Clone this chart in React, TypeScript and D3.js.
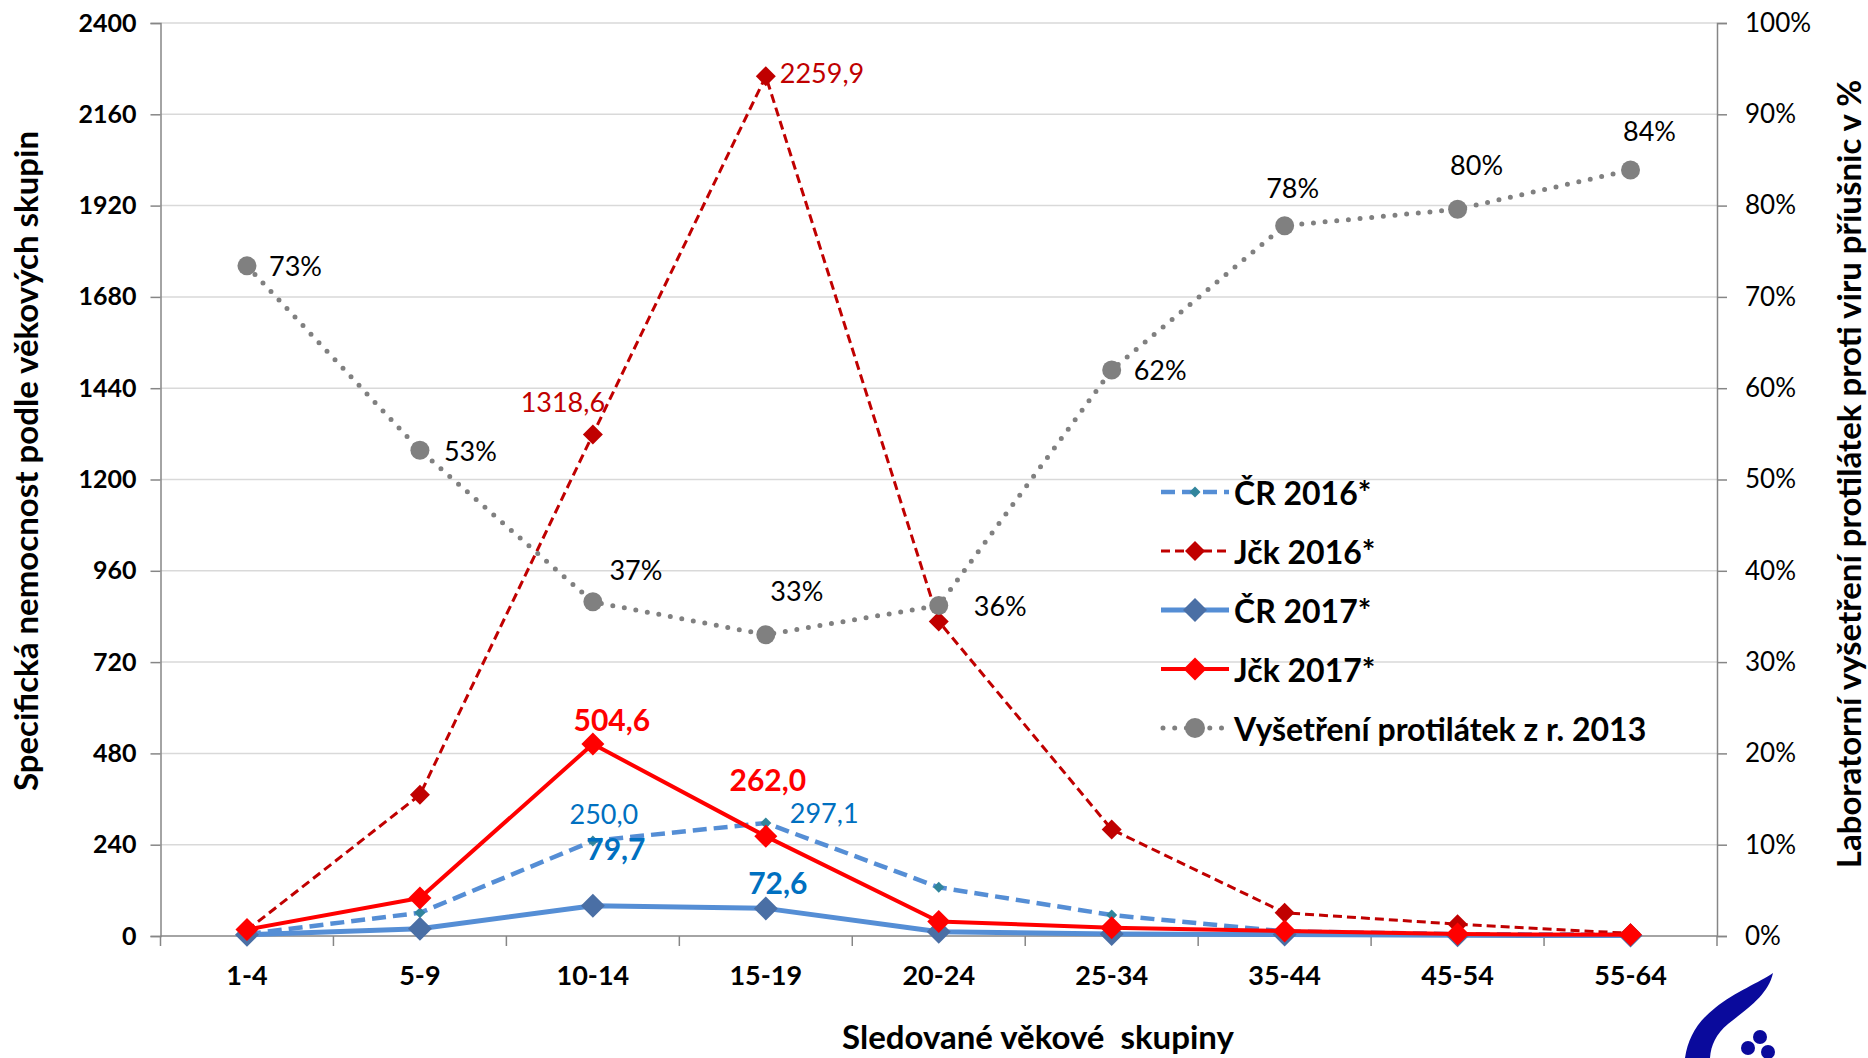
import React, { useEffect, useRef } from 'react';
import * as d3 from 'd3';

// age groups
const categories = ['1-4', '5-9', '10-14', '15-19', '20-24', '25-34', '35-44', '45-54', '55-64'];

// specific morbidity per 100 000
const cr2016 = [5, 61, 250.0, 297.1, 128, 55, 12, 5, 3];
const jck2016 = [15, 371, 1318.6, 2259.9, 827, 280, 61, 31, 7];
const cr2017 = [3, 19, 79.7, 72.6, 11, 5, 4, 2, 1];
const jck2017 = [17, 100, 504.6, 262.0, 38, 22, 13, 5, 3];

// antibody survey 2013, % (right axis)
const antibodies = [73.4, 53.2, 36.6, 33.0, 36.2, 62.0, 77.8, 79.6, 83.9];

const leftTicks = d3.range(0, 2401, 240);
const rightTicks = d3.range(0, 101, 10);

const FONT = "Lato, 'Open Sans', sans-serif";
const W = 1868;
const H = 1058;

const App: React.FC = () => {
  const svgRef = useRef<SVGSVGElement>(null);

  useEffect(() => {
    if (!svgRef.current) return;
    const svg = d3.select(svgRef.current);
    svg.selectAll('*').remove();

    const margin = { top: 23, right: 151, bottom: 122, left: 160.5 };
    const x0 = margin.left;
    const x1 = W - margin.right;
    const yBottom = H - margin.bottom;

    const x = d3.scaleBand<string>().domain(categories).range([x0, x1]);
    const cx = (i: number) => (x(categories[i]) as number) + x.bandwidth() / 2;
    const yL = d3.scaleLinear().domain([0, 2400]).range([yBottom, margin.top]);
    const yR = d3.scaleLinear().domain([0, 100]).range([yBottom, margin.top]);

    svg.append('rect').attr('width', W).attr('height', H).attr('fill', '#fff');

    // gridlines
    svg.append('g')
      .selectAll('line')
      .data(leftTicks.filter(t => t > 0))
      .enter()
      .append('line')
      .attr('x1', x0).attr('x2', x1)
      .attr('y1', d => yL(d)).attr('y2', d => yL(d))
      .attr('stroke', '#d9d9d9')
      .attr('stroke-width', 1.5);

    // left axis
    const left = svg.append('g')
      .attr('transform', `translate(${x0},0)`)
      .call(d3.axisLeft(yL).tickValues(leftTicks).tickSize(10).tickPadding(14).tickFormat(d3.format('d')));
    left.select('.domain').attr('stroke', '#868686').attr('stroke-width', 1.5);
    left.selectAll('.tick line').attr('stroke', '#868686').attr('stroke-width', 1.5);
    left.selectAll('.tick text')
      .attr('fill', '#000')
      .style('font-family', FONT)
      .style('font-size', '25px')
      .style('font-weight', 'bold');

    // right axis
    const right = svg.append('g')
      .attr('transform', `translate(${x1},0)`)
      .call(d3.axisRight(yR).tickValues(rightTicks).tickSize(10).tickPadding(18).tickFormat(d => `${d}%`));
    right.select('.domain').attr('stroke', '#868686').attr('stroke-width', 1.5);
    right.selectAll('.tick line').attr('stroke', '#868686').attr('stroke-width', 1.5);
    right.selectAll('.tick text')
      .attr('fill', '#000')
      .style('font-family', FONT)
      .style('font-size', '26px');

    // bottom axis
    const bottom = svg.append('g').attr('transform', `translate(0,${yBottom})`);
    bottom.append('line')
      .attr('x1', x0).attr('x2', x1)
      .attr('stroke', '#868686').attr('stroke-width', 1.5);
    bottom.selectAll('.xt')
      .data(categories.concat(['__end']))
      .enter()
      .append('line')
      .attr('x1', (d, i) => x0 + i * x.step())
      .attr('x2', (d, i) => x0 + i * x.step())
      .attr('y1', 0).attr('y2', 10)
      .attr('stroke', '#868686').attr('stroke-width', 1.5);
    bottom.selectAll('.xl')
      .data(categories)
      .enter()
      .append('text')
      .attr('x', (d, i) => cx(i))
      .attr('y', 49)
      .attr('text-anchor', 'middle')
      .style('font-family', FONT)
      .style('font-size', '27px')
      .style('font-weight', 'bold')
      .text(d => d);

    // axis titles
    svg.append('text')
      .attr('transform', 'translate(38,461) rotate(-90)')
      .attr('text-anchor', 'middle')
      .style('font-family', FONT)
      .style('font-size', '33px')
      .style('font-weight', 'bold')
      .text('Specifická nemocnost podle věkových skupin');

    svg.append('text')
      .attr('transform', 'translate(1861,474) rotate(-90)')
      .attr('text-anchor', 'middle')
      .style('font-family', FONT)
      .style('font-size', '33px')
      .style('font-weight', 'bold')
      .text('Laboratorní vyšetření protilátek proti viru příušnic v %');

    svg.append('text')
      .attr('x', 1038)
      .attr('y', 1049)
      .attr('text-anchor', 'middle')
      .style('font-family', FONT)
      .style('font-size', '33px')
      .style('font-weight', 'bold')
      .style('white-space', 'pre')
      .text('Sledované věkové  skupiny');

    const lineL = d3.line<number>().x((d, i) => cx(i)).y(d => yL(d));
    const lineR = d3.line<number>().x((d, i) => cx(i)).y(d => yR(d));

    const diamond = (r: number) => `M0,${-r}L${r},0L0,${r}L${-r},0Z`;

    interface Series {
      name: string;
      values: number[];
      color: string;
      width: number;
      dash: string;
      marker: string;
      markerR: number;
    }
    const series: Series[] = [
      { name: 'ČR 2016*', values: cr2016, color: '#558ed5', width: 4.5, dash: '14 7', marker: '#31859c', markerR: 5.5 },
      { name: 'Jčk 2016*', values: jck2016, color: '#c00000', width: 3, dash: '9 5', marker: '#c00000', markerR: 10 },
      { name: 'ČR 2017*', values: cr2017, color: '#558ed5', width: 5, dash: '', marker: '#4a6fa5', markerR: 12 },
      { name: 'Jčk 2017*', values: jck2017, color: '#ff0000', width: 4, dash: '', marker: '#ff0000', markerR: 11.5 },
    ];

    series.forEach(s => {
      svg.append('path')
        .datum(s.values)
        .attr('d', lineL)
        .attr('fill', 'none')
        .attr('stroke', s.color)
        .attr('stroke-width', s.width)
        .attr('stroke-dasharray', s.dash || null)
        .attr('stroke-linejoin', 'round');
      svg.append('g')
        .selectAll('path')
        .data(s.values)
        .enter()
        .append('path')
        .attr('transform', (d, i) => `translate(${cx(i)},${yL(d)})`)
        .attr('d', diamond(s.markerR))
        .attr('fill', s.marker);
    });

    // antibodies, dotted gray
    svg.append('path')
      .datum(antibodies)
      .attr('d', lineR)
      .attr('fill', 'none')
      .attr('stroke', '#808080')
      .attr('stroke-width', 5)
      .attr('stroke-linecap', 'round')
      .attr('stroke-dasharray', '0 11.7');
    svg.append('g')
      .selectAll('circle')
      .data(antibodies)
      .enter()
      .append('circle')
      .attr('cx', (d, i) => cx(i))
      .attr('cy', d => yR(d))
      .attr('r', 9.5)
      .attr('fill', '#808080');

    // data labels
    const fmt = (v: number) => d3.format('.1f')(v).replace('.', ',');
    const label = (px: number, py: number, txt: string, color: string, bold: boolean, anchor: string) =>
      svg.append('text')
        .attr('x', px)
        .attr('y', py)
        .attr('text-anchor', anchor)
        .attr('dominant-baseline', 'central')
        .attr('fill', color)
        .style('font-family', FONT)
        .style('font-size', bold ? '30px' : '27px')
        .style('font-weight', bold ? 'bold' : 'normal')
        .text(txt);

    // label placement: [dx, dy, anchor]
    const jck2016Place: [number, number, string][] = [[-30, -33, 'middle'], [14, -4, 'start']];
    const cr2016Place: [number, number, string][] = [[11, -27, 'middle'], [24, -10, 'start']];
    const cr2017Place: [number, number, string][] = [[23, -58, 'middle'], [12, -26, 'middle']];
    const jck2017Place: [number, number, string][] = [[19, -25, 'middle'], [2, -57, 'middle']];
    [2, 3].forEach((idx, k) => {
      label(cx(idx) + jck2016Place[k][0], yL(jck2016[idx]) + jck2016Place[k][1], fmt(jck2016[idx]), '#c00000', false, jck2016Place[k][2]);
      label(cx(idx) + cr2016Place[k][0], yL(cr2016[idx]) + cr2016Place[k][1], fmt(cr2016[idx]), '#0070c0', false, cr2016Place[k][2]);
      label(cx(idx) + cr2017Place[k][0], yL(cr2017[idx]) + cr2017Place[k][1], fmt(cr2017[idx]), '#0070c0', true, cr2017Place[k][2]);
      label(cx(idx) + jck2017Place[k][0], yL(jck2017[idx]) + jck2017Place[k][1], fmt(jck2017[idx]), '#ff0000', true, jck2017Place[k][2]);
    });

    const abPlace: [number, number, string][] = [
      [22, 0, 'start'], [24, 0, 'start'], [43, -32, 'middle'], [31, -44, 'middle'], [35, 0, 'start'],
      [22, 0, 'start'], [8, -38, 'middle'], [19, -45, 'middle'], [19, -39, 'middle'],
    ];
    antibodies.forEach((v, i) => {
      label(cx(i) + abPlace[i][0], yR(v) + abPlace[i][1], `${Math.round(v)}%`, '#000', false, abPlace[i][2]);
    });

    // legend
    const legendItems = [
      ...series.map(s => ({ ...s, circle: false })),
      { name: 'Vyšetření protilátek z r. 2013', values: antibodies, color: '#808080', width: 5, dash: '0 11.7', marker: '#808080', markerR: 10, circle: true },
    ];
    const legend = svg.append('g').attr('transform', 'translate(1161,492)');
    legendItems.forEach((it, i) => {
      const row = legend.append('g').attr('transform', `translate(0,${i * 59})`);
      row.append('line')
        .attr('x1', it.circle ? 2 : 0).attr('x2', 68)
        .attr('stroke', it.color)
        .attr('stroke-width', it.width)
        .attr('stroke-linecap', it.circle ? 'round' : 'butt')
        .attr('stroke-dasharray', it.dash || null);
      if (it.circle) {
        row.append('circle').attr('cx', 34).attr('r', it.markerR).attr('fill', it.marker);
      } else {
        row.append('path').attr('transform', 'translate(34,0)').attr('d', diamond(it.markerR)).attr('fill', it.marker);
      }
      row.append('text')
        .attr('x', 73)
        .attr('dominant-baseline', 'central')
        .style('font-family', FONT)
        .style('font-size', '32px')
        .style('font-weight', 'bold')
        .text(it.name);
    });

    // logo in the corner
    const logo = svg.append('g').attr('fill', '#0a0a9c');
    logo.append('path')
      .attr('d', 'M1773,973 C1760,982 1735,992 1715,1008 C1697,1022 1688,1038 1685,1058 L1710,1058 C1711,1045 1716,1034 1728,1024 C1748,1008 1768,995 1773,973 Z');
    [[1760, 1037], [1748, 1048], [1768, 1052]].forEach(([px, py]) => {
      logo.append('circle').attr('cx', px).attr('cy', py).attr('r', 7);
    });
  }, []);

  return (
    <svg
      ref={svgRef}
      width={W}
      height={H}
      style={{ position: 'absolute', left: 0, top: 0 }}
    />
  );
};

export default App;
